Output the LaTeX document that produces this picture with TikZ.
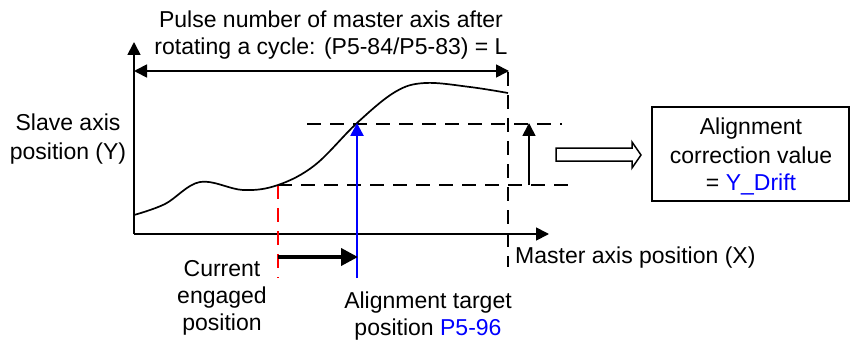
\documentclass[tikz,border=0pt]{standalone}
\usepackage{fontspec}
\setmainfont{Liberation Sans}
\usetikzlibrary{arrows.meta}
\definecolor{myblue}{RGB}{0,0,255}
\definecolor{myred}{RGB}{255,0,0}
\tikzset{
  lbl/.style={anchor=base, inner sep=0pt, font=\fontsize{23}{28}\selectfont},
  axisline/.style={line width=1.8pt},
  dashline/.style={line width=1.6pt, dash pattern=on 14pt off 9pt},
  tip/.style={-{Triangle[length=13pt,width=13pt]}},
}
\begin{document}
\begin{tikzpicture}[x=1pt,y=-1pt]
\useasboundingbox (0,0) rectangle (851,342);
% key points
\coordinate (O) at (134,234);
\coordinate (Ytop) at (134,42);
\coordinate (Xend) at (549,234);
\coordinate (Lleft) at (134,71);
\coordinate (Lright) at (509,71);
\coordinate (Vbot) at (508,267);
\coordinate (Ua) at (307,124);
\coordinate (Ub) at (562,124);
\coordinate (La) at (278,185);
\coordinate (Lb) at (573,185);
\coordinate (Ra) at (529,185);
\coordinate (Rb) at (529,123);
\coordinate (Bb) at (357,278);
\coordinate (Bt) at (357,123);
\coordinate (Rd) at (278,278);
\coordinate (Ta) at (278,257);
\coordinate (Tb) at (358,257);
% axes
\draw[axisline,tip] (O) -- (Ytop);
\draw[axisline,tip] (O) -- (Xend);
% L arrow
\draw[axisline,{Triangle[length=13pt,width=13pt]}-{Triangle[length=13pt,width=13pt]}] (Lleft) -- (Lright);
% dashed lines
\draw[dashline] (508,72) -- (Vbot);
\draw[dashline] (Ua) -- (Ub);
\draw[dashline] (La) -- (Lb);
\draw[dashline,myred] (La) -- (Rd);
% curve
\draw[line width=1.7pt] plot[smooth,tension=0.6] coordinates {(134,215) (165,204) (200,182) (243,190) (278,185) (315,165) (357,123) (395,92) (425,83) (470,87) (508,93)};
% arrows
\draw[line width=1.7pt,tip] (Ra) -- (Rb);
\draw[line width=2.6pt,myblue,tip] (Bb) -- (Bt);
\draw[line width=3.8pt,-{Triangle[length=17pt,width=17pt]}] (Ta) -- (Tb);
% hollow arrow
\draw[line width=1.5pt,line join=miter] (556,148) -- (632,148) -- (632,142) -- (641,155) -- (632,168) -- (632,161) -- (556,161) -- cycle;
% box
\draw[line width=1.5pt] (652,107) rectangle (849,201);
% texts
\node[lbl] (t1) at (331,28) {Pulse number of master axis after};
\node[lbl] (t2) at (331,55) {rotating a cycle: (P5-84/P5-83) = L};
\node[lbl] (s1) at (68,131) {Slave axis};
\node[lbl] (s2) at (68,160) {position (Y)};
\node[lbl] (b1) at (751,135) {Alignment};
\node[lbl] (b2) at (751,163) {correction value};
\node[lbl] (b3) at (751,190) {= \textcolor{myblue}{Y\_Drift}};
\node[lbl,anchor=base west] (m1) at (515,263) {Master axis position (X)};
\node[lbl] (c1) at (222,276) {Current};
\node[lbl] (c2) at (222,303) {engaged};
\node[lbl] (c3) at (222,330) {position};
\node[lbl] (a1) at (428,308) {Alignment target};
\node[lbl] (a2) at (428,335) {position \textcolor{myblue}{P5-96}};
\end{tikzpicture}
\end{document}
